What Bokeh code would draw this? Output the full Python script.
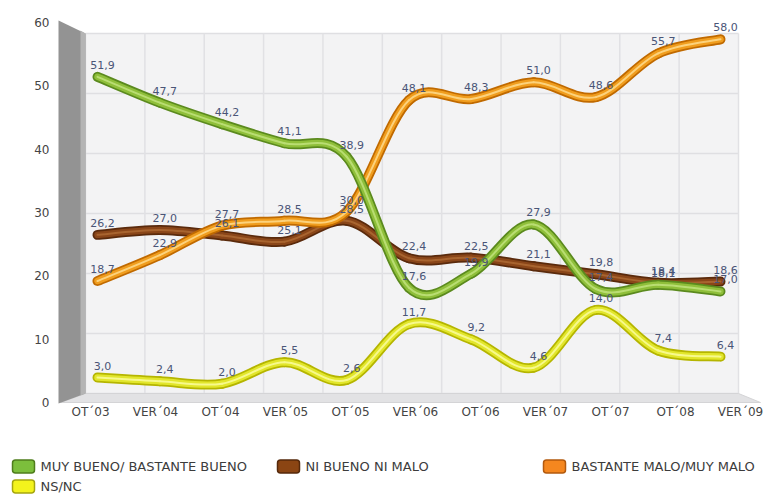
from bokeh.plotting import figure
from bokeh.models import Range1d, FixedTicker, ColumnDataSource
from bokeh.embed import file_html
from bokeh.resources import INLINE
from bokeh.core.properties import value

# ---------------- data ----------------
categories = ["OT´03", "VER´04", "OT´04", "VER´05", "OT´05", "VER´06",
              "OT´06", "VER´07", "OT´07", "OT´08", "VER´09"]
muy_bueno = [51.9, 47.7, 44.2, 41.1, 38.9, 17.6, 19.9, 27.9, 17.4, 18.1, 17.0]
ni_bueno_ni_malo = [26.2, 27.0, 26.1, 25.1, 28.5, 22.4, 22.5, 21.1, 19.8, 18.4, 18.6]
bastante_malo = [18.7, 22.9, 27.7, 28.5, 30.0, 48.1, 48.3, 51.0, 48.6, 55.7, 58.0]
ns_nc = [3.0, 2.4, 2.0, 5.5, 2.6, 11.7, 9.2, 4.6, 14.0, 7.4, 6.4]
y_ticks = [0, 10, 20, 30, 40, 50, 60]
series_names = ["MUY BUENO/ BASTANTE BUENO", "NI BUENO NI MALO",
                "BASTANTE MALO/MUY MALO", "NS/NC"]

# ---------------- layout calibration (page pixels) ----------------
W, H = 771, 496
L, R, T, B = 0, W, 0, H                 # frame covers the whole figure
FX_A, FX_B = 90.0, 65.0                 # front plane x: page = a + b*i
FY_A, FY_B = 402.0, 6.333               # front plane y: page = a - b*v
DX_A, DX_B = 97.0, 62.3                 # data plane x
DY_A, DY_B = 395.5, 6.15                # data plane y
WALL_X = 58                             # page x of the front wall edge

def xr(a, b):
    return Range1d((L - a) / b, (R - a) / b)

def yr(a, b):
    return Range1d((a - B) / b, (a - T) / b)

FONT = value("DejaVu Sans")

p = figure(width=W, height=H, output_backend="svg", toolbar_location=None,
           x_range=xr(FX_A, FX_B), y_range=yr(FY_A, FY_B), min_border=0,
           outline_line_color=None, background_fill_color="white",
           border_fill_color="white")
p.extra_x_ranges = {"data": xr(DX_A, DX_B), "page": Range1d(L, R)}
p.extra_y_ranges = {"data": yr(DY_A, DY_B), "page": Range1d(B, T)}
p.xgrid.visible = False
p.ygrid.visible = False

# ---------------- pseudo-3D box (decoration) ----------------
pg = dict(x_range_name="page", y_range_name="page")
BW_L, BW_R, BW_T, BW_B = 85, 738, 33, 393
p.quad(left=BW_L, right=BW_R, top=BW_T, bottom=BW_B, fill_color="#f3f3f4",
       line_color=None, **pg)
hy = [BW_T + 60 * k for k in range(7)]
p.segment(x0=[BW_L] * 7, x1=[BW_R] * 7, y0=hy, y1=hy, line_color="#dfdfe2",
          line_width=1.5, **pg)
vx = [BW_L + (BW_R - BW_L) * k / 11 for k in range(12)]
p.segment(x0=vx, x1=vx, y0=[BW_T] * 12, y1=[BW_B] * 12, line_color="#e1e1e4",
          line_width=1.5, **pg)
p.patch(x=[60, BW_L, BW_R, 760], y=[402, BW_B, BW_B, 402], fill_color="#e2e2e4",
        line_color="#d4d4d6", **pg)
p.patch(x=[WALL_X, BW_L, BW_L, WALL_X], y=[20, BW_T, BW_B, 403], fill_color="#939393",
        line_color=None, **pg)
p.patch(x=[80, BW_L, BW_L, 80], y=[30, BW_T, BW_B, 395], fill_color="#b4b4b4",
        line_color=None, **pg)

# ---------------- axes (fixed inside the full-size frame) ----------------
p.xaxis.ticker = FixedTicker(ticks=list(range(len(categories))))
p.xaxis.major_label_overrides = {i: c for i, c in enumerate(categories)}
p.yaxis.ticker = FixedTicker(ticks=y_ticks)
p.xaxis.fixed_location = 0
p.yaxis.fixed_location = (WALL_X - FX_A) / FX_B
for ax in (p.xaxis, p.yaxis):
    ax.axis_line_color = None
    ax.major_tick_line_color = None
    ax.minor_tick_line_color = None
    ax.major_label_text_font = "DejaVu Sans"
    ax.major_label_text_font_size = "12px"
    ax.major_label_text_color = "#444444"
p.xaxis.major_label_standoff = -4
p.yaxis.major_label_standoff = 3

# ---------------- smooth tube lines ----------------
def bezier_source(vals):
    n = len(vals)
    d = dict(x0=[], y0=[], x1=[], y1=[], cx0=[], cy0=[], cx1=[], cy1=[])
    for i in range(n - 1):
        i0, i3 = max(i - 1, 0), min(i + 2, n - 1)
        d["x0"].append(i); d["y0"].append(vals[i])
        d["x1"].append(i + 1); d["y1"].append(vals[i + 1])
        d["cx0"].append(i + (i + 1 - i0) / 6); d["cy0"].append(vals[i] + (vals[i + 1] - vals[i0]) / 6)
        d["cx1"].append(i + 1 - (i3 - i) / 6); d["cy1"].append(vals[i + 1] - (vals[i3] - vals[i]) / 6)
    return ColumnDataSource(d)

styles = {
    "green": ("#5b8a1e", "#8fbf3a", "#b9dd72"),
    "brown": ("#5a2a0c", "#8a4619", "#a8642f"),
    "orange": ("#c06a00", "#f09d1e", "#fcd27c"),
    "yellow": ("#b5b500", "#e2e62c", "#f7f98c"),
}
draw_order = [(ni_bueno_ni_malo, "brown"), (bastante_malo, "orange"),
              (muy_bueno, "green"), (ns_nc, "yellow")]
dd = dict(x_range_name="data", y_range_name="data")
for vals, key in draw_order:
    src = bezier_source(vals)
    dark, mid, light = styles[key]
    for col, w in ((dark, 10), (mid, 6.5), (light, 2)):
        p.bezier(x0="x0", y0="y0", x1="x1", y1="y1", cx0="cx0", cy0="cy0",
                 cx1="cx1", cy1="cy1", source=src, line_color=col,
                 line_width=w, line_cap="round", **dd)

# ---------------- value labels ----------------
for vals, key in draw_order:
    lab = ColumnDataSource(dict(x=list(range(len(vals))), y=vals,
                                t=[f"{v:.1f}".replace(".", ",") for v in vals]))
    p.text(x="x", y="y", text="t", source=lab, text_font=FONT,
           text_font_size="11px", text_color="#4a5577", text_align="center",
           text_baseline="middle", x_offset=5, y_offset=-12, **dd)

# ---------------- legend (swatches + labels) ----------------
leg_fill = ["#7cbf3c", "#8b4513", "#f5871f", "#f3f31c"]
leg_line = ["#4f7d1c", "#55290b", "#b35a0e", "#a6a60f"]
sw_left = [12, 277, 543, 12]
row_y = [466, 466, 466, 486]
SW_W, SW_H = 22, 13
p.quad(left=sw_left, right=[x + SW_W for x in sw_left],
       top=[y - SW_H / 2 for y in row_y], bottom=[y + SW_H / 2 for y in row_y],
       fill_color=leg_fill, line_color=leg_line, line_width=1.5,
       border_radius=3, **pg)
p.text(x=[x + SW_W + 6 for x in sw_left], y=row_y, text=series_names,
       text_font=FONT, text_font_size="13px", text_color="#3c3c3c",
       text_align="left", text_baseline="middle", **pg)

open("out.html", "w").write(file_html(p, INLINE))
